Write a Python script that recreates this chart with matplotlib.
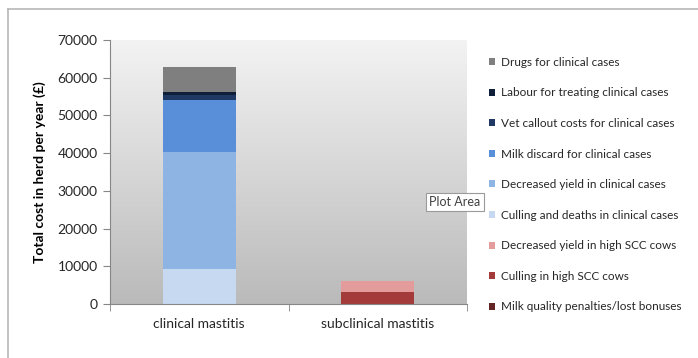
import numpy as np
from matplotlib import pyplot as plt
from matplotlib.patches import Patch
from matplotlib.lines import Line2D

plt.rcParams['font.family'] = ['Lato', 'DejaVu Sans']

# categories and stacked cost components (bottom -> top)
categories = ['clinical mastitis', 'subclinical mastitis']
components = [
    'Milk quality penalties/lost bonuses',
    'Culling in high SCC cows',
    'Decreased yield in high SCC cows',
    'Culling and deaths in clinical cases',
    'Decreased yield in clinical cases',
    'Milk discard for clinical cases',
    'Vet callout costs for clinical cases',
    'Labour for treating clinical cases',
    'Drugs for clinical cases',
]
values = [
    [0, 0],        # milk quality penalties
    [0, 3300],     # culling high SCC
    [0, 2900],     # decreased yield high SCC
    [9200, 0],     # culling and deaths clinical
    [31000, 0],    # decreased yield clinical
    [13900, 0],    # milk discard
    [1200, 0],     # vet callout
    [800, 0],      # labour
    [6800, 0],     # drugs
]
colors = ['#632523', '#a33b3a', '#e39c9b', '#c6d9f1', '#8eb4e3',
          '#588fd8', '#1f3864', '#0f1f3a', '#7f7f7f']
yticks = [0, 10000, 20000, 30000, 40000, 50000, 60000, 70000]

fig = plt.figure(figsize=(6.98, 3.58), dpi=100)
ax = fig.add_axes([110/698, 1 - 304/358, 357/698, 264/358])

# gradient background of the plot area
grad = np.linspace(0, 1, 256).reshape(-1, 1)
ax.imshow(grad, extent=[0, 1, 0, 1], transform=ax.transAxes, aspect='auto',
          cmap=plt.matplotlib.colors.LinearSegmentedColormap.from_list('g', ['#f3f3f3', '#bababa']),
          origin='upper', zorder=0)

x = np.arange(len(categories))
bottom = np.zeros(len(categories))
for name, vals, c in zip(components, values, colors):
    ax.bar(x, vals, width=0.41, bottom=bottom, color=c, label=name, zorder=2)
    bottom += np.array(vals)

ax.set_xlim(-0.5, 1.5)
ax.set_ylim(0, 70000)
ax.set_yticks(yticks)
ax.set_yticklabels([str(t) for t in yticks], fontsize=10, color='#262626')
ax.set_xticks(x)
ax.set_xticklabels(categories, fontsize=10, color='#262626')
ax.tick_params(axis='x', length=0, pad=10)
ax.set_xticks([-0.5, 0.5, 1.5], minor=True)
ax.tick_params(axis='x', which='minor', length=5, color='#868686')
ax.tick_params(axis='y', length=5, color='#868686', pad=4)
for s in ['top', 'right']:
    ax.spines[s].set_visible(False)
for s in ['left', 'bottom']:
    ax.spines[s].set_color('#868686')
ax.set_ylabel('Total cost in herd per year (£)', fontsize=10, fontweight='bold', labelpad=8)

handles = [Patch(facecolor=c, edgecolor='none') for c in colors][::-1]
labels = components[::-1]
fig.legend(handles, labels, loc='upper left', bbox_to_anchor=(484/698, 1 - 52/358),
           frameon=False, fontsize=8.5, handlelength=0.55, handleheight=0.55,
           handletextpad=0.5, labelspacing=1.66, borderaxespad=0, labelcolor='#262626')

# "Plot Area" tooltip
fig.text(455/698, 1 - 202/358, 'Plot Area', fontsize=9, color='#404040', ha='center', va='center',
         bbox=dict(boxstyle='square,pad=0.25', facecolor='white', edgecolor='#9a9a9a', linewidth=0.8))

# outer chart frame (top and left edges visible)
fig.add_artist(Line2D([8/698, 8/698], [0, 1 - 9/358], transform=fig.transFigure, color='#b8b8b8', lw=1.2))
fig.add_artist(Line2D([8/698, 1], [1 - 9/358, 1 - 9/358], transform=fig.transFigure, color='#b8b8b8', lw=1.2))

fig.savefig('out.png', dpi=100)
